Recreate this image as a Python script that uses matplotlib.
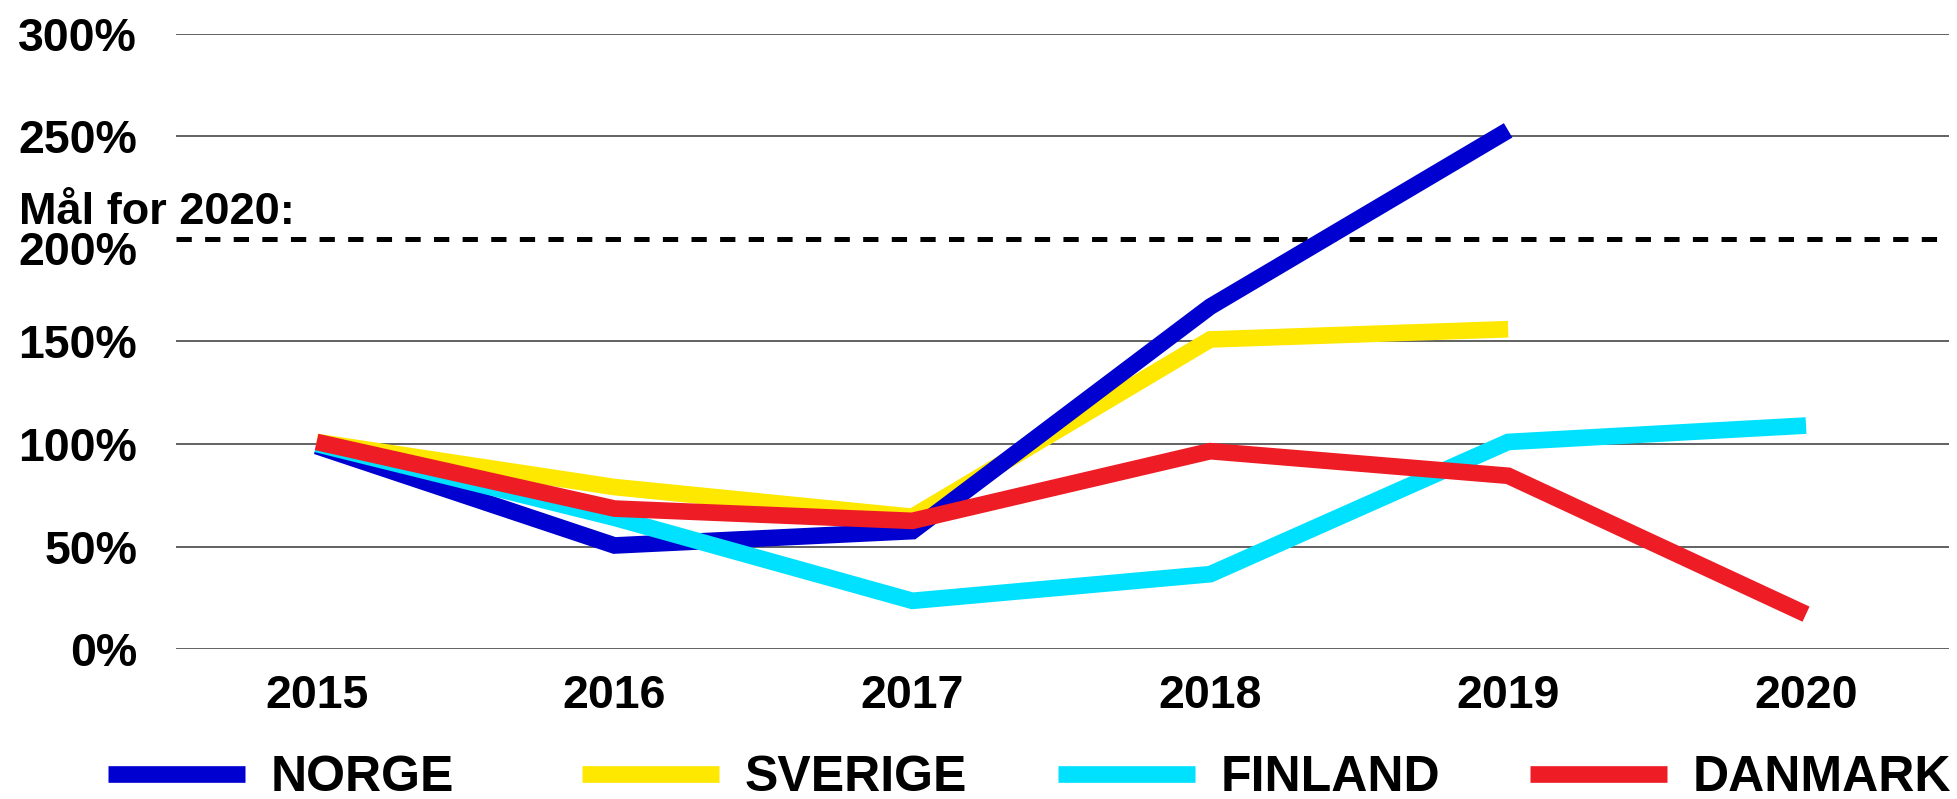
import matplotlib
matplotlib.use("Agg")
import matplotlib.pyplot as plt

# ---- data ----
years = [2015, 2016, 2017, 2018, 2019, 2020]
norge = [99, 50.5, 57.5, 167, 253]
sverige = [101, 79, 64.5, 151, 156]
finland = [100, 64, 23.5, 36.5, 101, 109]
danmark = [101, 68.5, 62.5, 96.5, 84.5, 17]
series_names = ["NORGE", "SVERIGE", "FINLAND", "DANMARK"]
ytick_vals = [0, 50, 100, 150, 250, 300]
ytick_labels = ["0%", "50%", "100%", "150%", "250%", "300%"]
goal_value = 200
goal_label_top = "Mål for 2020:"
goal_label_bottom = "200%"

colors = {"NORGE": "#0000D0", "SVERIGE": "#FFE800", "FINLAND": "#00E1FF", "DANMARK": "#EE1C25"}

plt.rcParams["font.family"] = ["Liberation Sans", "DejaVu Sans"]
plt.rcParams["font.weight"] = "bold"
plt.rcParams["lines.scale_dashes"] = False

W, H = 1957, 799
fig = plt.figure(figsize=(W / 100, H / 100), dpi=100)
left, right = 176 / W, 1949 / W
bottom, top = (H - 649) / H, (H - 34) / H
ax = fig.add_axes([left, bottom, right - left, top - bottom])

lw = 12
kw = dict(lw=lw, solid_joinstyle="miter", solid_capstyle="butt", clip_on=False)
l_sv, = ax.plot(years[:len(sverige)], sverige, color=colors["SVERIGE"], zorder=3, **kw)
l_no, = ax.plot(years[:len(norge)], norge, color=colors["NORGE"], zorder=4, **kw)
l_fi, = ax.plot(years[:len(finland)], finland, color=colors["FINLAND"], zorder=5, **kw)
l_da, = ax.plot(years[:len(danmark)], danmark, color=colors["DANMARK"], zorder=6, **kw)

ax.axhline(goal_value, color="black", lw=3.6, dashes=(11, 9.6), zorder=2)

ax.set_xlim(2014.528, 2020.48)
ax.set_ylim(0, 300)
ax.set_yticks(ytick_vals)
ax.set_yticklabels(ytick_labels)
ax.set_xticks(years)
ax.set_xticklabels([str(y) for y in years])
ax.tick_params(axis="both", length=0, labelsize=33.5)
ax.tick_params(axis="y", pad=28)
ax.tick_params(axis="x", pad=18)
for lab in ax.get_xticklabels() + ax.get_yticklabels():
    lab.set_fontweight("bold")
ax.yaxis.grid(True, color="#555555", lw=1.3, zorder=1)
ax.set_axisbelow(True)
for s in ax.spines.values():
    s.set_visible(False)

fig.text(19 / W, (H - 212) / H, goal_label_top, ha="left", va="center",
         fontsize=32.5, fontweight="bold")
fig.text(137 / W, (H - 253) / H, goal_label_bottom, ha="right", va="center",
         fontsize=33.5, fontweight="bold")

handles = {"NORGE": l_no, "SVERIGE": l_sv, "FINLAND": l_fi, "DANMARK": l_da}
starts = [108, 582, 1058, 1530]
for name, x0 in zip(series_names, starts):
    leg = fig.legend([handles[name]], [name], loc="center left",
                     bbox_to_anchor=(x0 / W, (H - 778) / H), frameon=False,
                     borderpad=0, borderaxespad=0, handlelength=2.73,
                     handletextpad=0.53, prop={"size": 36, "weight": "bold"})
    for ln in leg.get_lines():
        ln.set_linewidth(12)

fig.savefig("out.png", dpi=100, facecolor="white")
